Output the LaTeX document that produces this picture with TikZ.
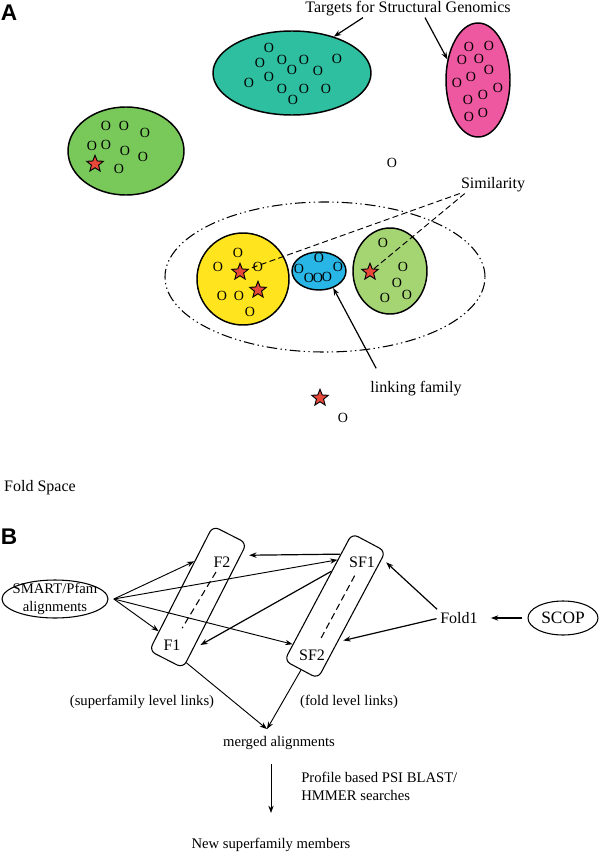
\documentclass[tikz,border=0pt]{standalone}
\usepackage{fontspec}
\setmainfont{Liberation Serif}
\newfontfamily\panelfont{Liberation Sans}
\usepackage{tikz}
\usetikzlibrary{shapes.geometric,arrows.meta,calc,positioning}

\definecolor{famteal}{RGB}{46,190,160}
\definecolor{fampink}{RGB}{238,88,160}
\definecolor{famgreen}{RGB}{120,200,90}
\definecolor{famyellow}{RGB}{255,228,30}
\definecolor{famblue}{RGB}{40,182,230}
\definecolor{famlime}{RGB}{165,212,115}
\definecolor{starred}{RGB}{232,72,58}

\begin{document}
\begin{tikzpicture}[x=0.75pt,y=0.75pt,yscale=-1,xscale=1,
  fam/.style={ellipse, draw, line width=1.1pt, inner sep=0pt},
  dom/.style={inner sep=0pt, font=\fontsize{10.5}{10.5}\selectfont},
  redstar/.style={star, star points=5, star point ratio=2.3, draw, line width=0.7pt, fill=starred, minimum size=13pt, inner sep=0pt},
  lbl/.style={inner sep=0.75pt, font=\fontsize{12}{14}\selectfont},
  blbl/.style={inner sep=0.75pt, font=\fontsize{11}{13.5}\selectfont},
  panel/.style={inner sep=0pt, font=\panelfont\bfseries\fontsize{17}{17}\selectfont},
  lane/.style={draw, rounded corners=5pt, line width=0.8pt, minimum width=28.5pt, inner sep=0pt},
  arr/.style={-{Stealth[length=5.5pt,width=4pt]}, line width=0.7pt},
  simline/.style={line width=0.7pt, dash pattern=on 4.5pt off 2.5pt},
]
\path[use as bounding box] (0,0) rectangle (602,853);

%%%%% Panel A: fold space
\node[panel] (pa) at (9,13) {A};

%Shape: Ellipse (clan of linked families)
\node[ellipse, draw, line width=0.8pt, inner sep=0pt, minimum width=240pt, minimum height=112.5pt,
      dash pattern=on 8pt off 2.5pt on 1pt off 2.5pt on 1pt off 2.5pt] (clan) at (325,277) {};

%Shape: Ellipse (families)
\node[fam, fill=famteal, minimum width=118.5pt, minimum height=63pt] (teal) at (292,73) {};
\node[fam, fill=fampink, minimum width=48pt, minimum height=85.5pt] (pink) at (478,80) {};
\node[fam, fill=famgreen, minimum width=87pt, minimum height=66pt] (green) at (126,151) {};
\node[fam, fill=famyellow, minimum width=69pt, minimum height=69pt] (yellow) at (243,279) {};
\node[fam, fill=famblue, minimum width=40.5pt, minimum height=28.5pt] (blue) at (319,271) {};
\node[fam, fill=famlime, minimum width=55.5pt, minimum height=64.5pt] (lime) at (390,271) {};

% domains
\foreach \x/\y [count=\i] in {269/48,260/63,282/60,304/60,337/59,269/77,292/70,318/71,249/83,282/89,304/89,326/89,293/100}
  \node[dom] (t\i) at (\x,\y) {O};
\foreach \x/\y [count=\i] in {469/47,489/46,462/60,479/59,457/83,471/77,489/70,468/100,483/95,498/88,469/117,483/113}
  \node[dom] (p\i) at (\x,\y) {O};
\foreach \x/\y [count=\i] in {106/126,124/126,145/133,92/146,106/145,125/151,143/157,119/169}
  \node[dom] (g\i) at (\x,\y) {O};
\foreach \x/\y [count=\i] in {238/253,218/267,258/267,222/296,239/296,250/312}
  \node[dom] (y\i) at (\x,\y) {O};
\foreach \x/\y [count=\i] in {319/258,299/269,338/267,309/278,318/278,327/277}
  \node[dom] (b\i) at (\x,\y) {O};
\foreach \x/\y [count=\i] in {383/243,403/267,397/283,385/298,407/295}
  \node[dom] (l\i) at (\x,\y) {O};
\node[dom] (lone1) at (392,163) {O};
\node[dom] (lone2) at (343,418) {O};

% known structures
\node[redstar] (gs) at (95,164) {};
\node[redstar] (ys1) at (240,272) {};
\node[redstar] (ys2) at (258,290) {};
\node[redstar] (ls) at (370,272) {};
\node[redstar] (lones) at (320,398) {};

% Text Node
\node[lbl] (targets) at (408,9) {Targets for Structural Genomics};
\node[lbl] (sim) at (493,185) {Similarity};
\node[lbl] (link) at (416,389) {linking family};
\node[lbl] (space) at (40,488) {Fold Space};

\draw[arr, line width=0.9pt] ($(targets.south)+(-45,0)$) -- (teal.41);
\draw[arr, line width=0.9pt] ($(targets.south)+(17,0)$) -- (pink.146);
\draw[simline] (sim.south west) -- (ys1);
\draw[simline] ($(sim.south west)+(5,0)$) -- (ls);
\draw[arr, line width=0.9pt] ($(link.north west)+(7,-12)$) -- (blue.-50);

%%%%% Panel B: building the alignments
\node[panel] (pb) at (9,537) {B};

\node[ellipse, draw, line width=0.8pt, inner sep=0pt, minimum width=79.5pt, minimum height=28.5pt] (smart) at (55,599) {};
\node[blbl, align=center] (smarttext) at (smart) {SMART/Pfam\\alignments};
\node[ellipse, draw, line width=0.8pt, inner sep=0pt, minimum width=52.5pt, minimum height=25.5pt,
      font=\fontsize{13}{13}\selectfont] (scop) at (563,618) {SCOP};
\node[lbl] (fold) at (459,618) {Fold1};

%Shape: Rounded Rect (family and superfamily lanes)
\node[lane, minimum height=105pt, rotate=-27] (fbox) at (198,597) {};
\node[lane, minimum height=108pt, rotate=-28] (sfbox) at (335,606) {};

\node[lbl] (f2) at (222,562) {F2};
\node[lbl] (f1) at (172,645) {F1};
\node[lbl] (sf1) at (362,562) {SF1};
\node[lbl] (sf2) at (312,655) {SF2};

\draw[line width=0.8pt, dash pattern=on 5pt off 3pt, shorten <=3pt, shorten >=9pt] (f2) -- (f1);
\draw[line width=0.8pt, dash pattern=on 5pt off 3pt, shorten <=6pt, shorten >=8pt] (sf1) -- (sf2);

\coordinate (fan) at ([xshift=4pt]smart.east);
\draw[arr] (fan) -- (fbox.123);
\draw[arr] (fan) -- (fbox.248);
\draw[arr] (fan) -- (sfbox.115);
\draw[arr] (fan) -- (sfbox.250);
\draw[arr, line width=0.9pt, shorten >=6pt] (sfbox.112) -- (fbox.71);
\draw[arr, line width=0.9pt, shorten >=6pt] (sfbox.124) -- (fbox.-68);
\draw[arr, line width=0.9pt, shorten <=2pt, shorten >=4pt] (fold.north west) -- (sfbox.73);
\draw[arr, line width=0.9pt, shorten <=2pt, shorten >=4pt] (fold.west) -- (sfbox.-57);
\draw[arr, line width=0.9pt, shorten <=4pt, shorten >=9pt] (scop) -- (fold);

% Text Node
\node[blbl] (suplinks) at (142,702) {(superfamily level links)};
\node[blbl] (foldlinks) at (349,702) {(fold level links)};
\node[blbl] (merged) at (279,743) {merged alignments};
\node[blbl, anchor=west, align=left] (profile) at (300,786) {Profile based PSI BLAST/\\HMMER searches};
\node[blbl] (newsf) at (271,845) {New superfamily members};

\coordinate (mtop) at ($(merged.north)+(-12,-6)$);
\draw[arr] (fbox.-73) -- (mtop);
\draw[arr] (sfbox.south) -- (mtop);
\draw[arr, shorten <=10pt, shorten >=18pt] (merged.south -| newsf.north) -- (newsf.north);

\end{tikzpicture}
\end{document}
